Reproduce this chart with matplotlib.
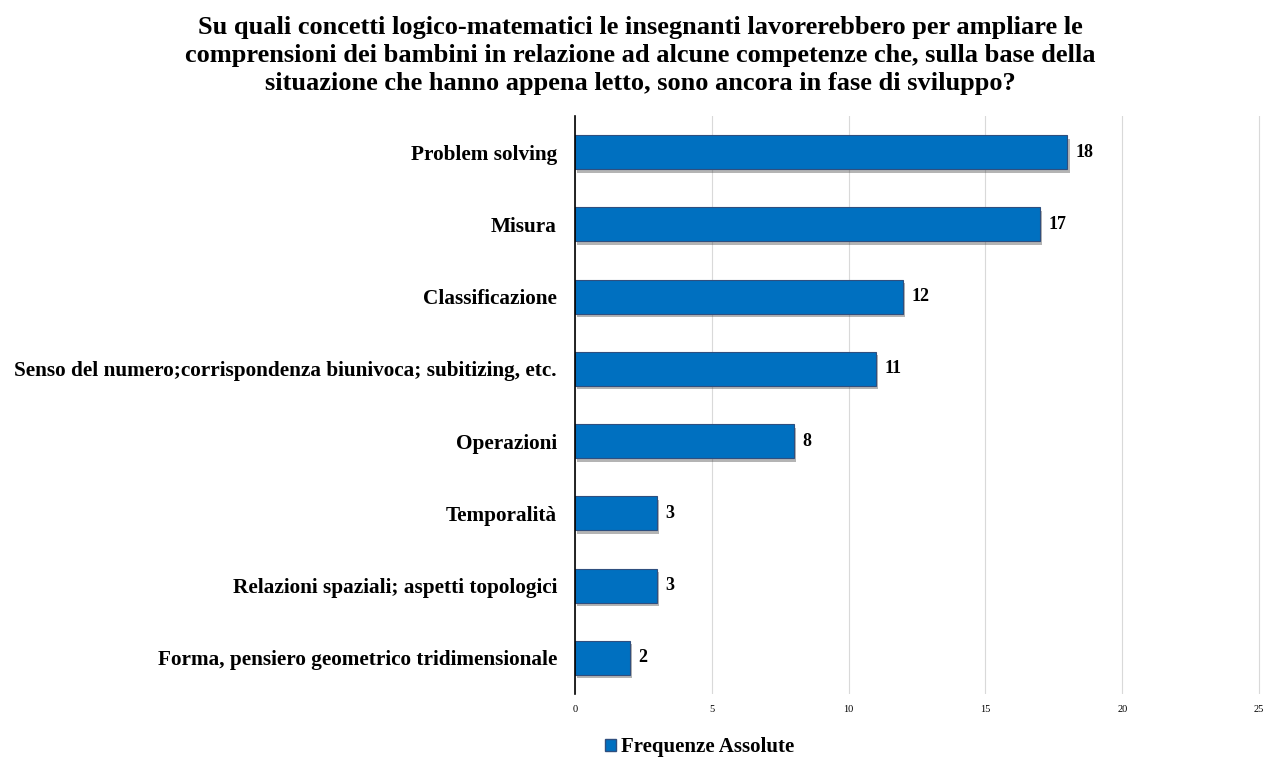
import matplotlib.pyplot as plt
import matplotlib.patheffects as pe
import matplotlib.patches as mpatches

categories = [
    "Problem solving",
    "Misura",
    "Classificazione",
    "Senso del numero;corrispondenza biunivoca; subitizing, etc.",
    "Operazioni",
    "Temporalità",
    "Relazioni spaziali; aspetti topologici",
    "Forma, pensiero geometrico tridimensionale",
]
values = [18, 17, 12, 11, 8, 3, 3, 2]
x_ticks = [0, 5, 10, 15, 20, 25]

BLUE = "#0070C0"
plt.rcParams["font.family"] = ["Liberation Serif", "DejaVu Serif"]

fig = plt.figure(figsize=(12.63, 7.58), dpi=100)
ax = fig.add_axes([0.4553, 0.0844, 0.5437, 0.7626])

ypos = list(range(len(categories)))
bars = ax.barh(ypos, values, height=0.47, color=BLUE, edgecolor="#2F4F7F",
               linewidth=0.8, zorder=3, label="Frequenze Assolute")
for b in bars:
    b.set_path_effects([pe.SimplePatchShadow(offset=(1.5, -2.5), shadow_rgbFace="#444444", alpha=0.4),
                        pe.Normal()])

for y, v in zip(ypos, values):
    ax.text(v + 0.3, y, str(v), va="center", ha="left", fontsize=13,
            fontweight="bold", zorder=4)

ax.set_yticks(ypos)
ax.set_yticklabels(categories, fontsize=15.3, fontweight="bold")
ax.set_ylim(len(categories) - 0.5, -0.5)
ax.set_xlim(0, 25.1)
ax.set_xticks(x_ticks)
ax.set_xticklabels([str(t) for t in x_ticks], fontsize=7.5)
ax.tick_params(axis="both", length=0)
ax.tick_params(axis="y", pad=13)
ax.tick_params(axis="x", pad=8)
ax.grid(axis="x", color="#D9D9D9", linewidth=0.8, zorder=0)
for s in ["top", "right", "bottom"]:
    ax.spines[s].set_visible(False)
ax.spines["left"].set_color("black")
ax.spines["left"].set_linewidth(1.2)
ax.spines["left"].set_zorder(5)

fig.text(0.507, 0.979,
         "Su quali concetti logico-matematici le insegnanti lavorerebbero per ampliare le\n"
         "comprensioni dei bambini in relazione ad alcune competenze che, sulla base della\n"
         "situazione che hanno appena letto, sono ancora in fase di sviluppo?",
         ha="center", va="top", fontsize=19, fontweight="bold", linespacing=1.28)

handle = mpatches.Patch(facecolor=BLUE, edgecolor="#2F4F7F", label="Frequenze Assolute")
fig.legend(handles=[handle], loc="center", bbox_to_anchor=(0.554, 0.014),
           frameon=False, prop={"size": 15, "weight": "bold"},
           handlelength=0.55, handleheight=0.55, handletextpad=0.25,
           borderpad=0, borderaxespad=0)

fig.savefig("out.png", dpi=100)
